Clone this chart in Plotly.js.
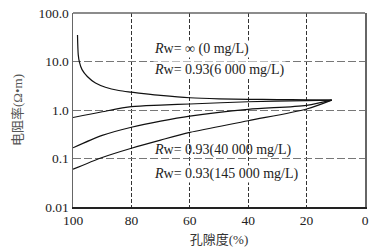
<!DOCTYPE html>
<html>
<head>
<meta charset="utf-8">
<script src="https://cdn.plot.ly/plotly-3.0.1.min.js"></script>
<style>
html,body{margin:0;padding:0;background:#fff;}
#chart{width:379px;height:252px;}
</style>
</head>
<body>
<div id="chart"></div>
<script>
// ---- data ----
const xInf = [98.46, 98.2, 97.8, 96.9, 95.1, 92.3, 88.9, 84.3, 80, 75, 70, 60, 50, 40, 30, 20, 11.4];
const yInf = [35, 13.7, 9.7, 6.8, 4.9, 3.6, 2.95, 2.52, 2.33, 2.15, 2.0, 1.79, 1.7, 1.66, 1.64, 1.62, 1.6];

const x6000 = [100, 90, 80, 70, 60, 40, 20, 11.4];
const y6000 = [0.70, 0.92, 1.17, 1.26, 1.33, 1.48, 1.56, 1.6];

const x40000 = [100, 90, 80, 70, 60, 40, 20, 11.4];
const y40000 = [0.166, 0.30, 0.44, 0.59, 0.75, 1.03, 1.25, 1.6];

const x145000 = [100, 90, 80, 70, 60, 40, 20, 11.4];
const y145000 = [0.06, 0.105, 0.163, 0.24, 0.345, 0.6, 1.05, 1.6];

const xTickVals = [100, 80, 60, 40, 20, 0];
const xTickText = ['100', '80', '60', '40', '20', '0'];
const yTickVals = [0.01, 0.1, 1, 10, 100];
const yTickText = ['0.01', '0.1', '1.0', '10.0', '100.0'];

const labelTexts = [
  '<i>R</i>w= ∞ (0 mg/L)',
  '<i>R</i>w= 0.93(6 000 mg/L)',
  '<i>R</i>w= 0.93(40 000 mg/L)',
  '<i>R</i>w= 0.93(145 000 mg/L)'
];
const xTitle = '孔隙度(%)';
const yTitle = '电阻率(Ω•m)';

// ---- styling / layout ----
const serif = 'Liberation Serif, Times New Roman, Noto Sans CJK SC, serif';
const lineStyle = {color: '#111', width: 1.2, shape: 'spline', smoothing: 0.8};

const traces = [
  {x: xInf, y: yInf},
  {x: x6000, y: y6000},
  {x: x40000, y: y40000},
  {x: x145000, y: y145000}
].map(t => Object.assign({type: 'scatter', mode: 'lines', line: lineStyle, hoverinfo: 'skip'}, t));

const labelY = [0.814, 0.705, 0.296, 0.169];
const labelBg = ['white', 'white', 'rgba(255,255,255,0)', 'white'];
const annotations = labelTexts.map((t, i) => ({
  text: t, xref: 'paper', yref: 'paper', x: 0.274, y: labelY[i],
  xanchor: 'left', yanchor: 'middle', showarrow: false,
  bgcolor: labelBg[i], borderpad: 0,
  font: {family: serif, size: 14, color: '#222'}
}));

const layout = {
  width: 379, height: 252,
  margin: {l: 73, r: 14, t: 13, b: 45},
  paper_bgcolor: 'white', plot_bgcolor: 'white',
  showlegend: false,
  font: {family: serif, size: 13, color: '#222'},
  xaxis: {
    range: [100, 0], tickvals: xTickVals, ticktext: xTickText,
    showgrid: true, gridcolor: '#333', gridwidth: 1, griddash: '4px,2px',
    zeroline: false, showline: true, linecolor: '#222', linewidth: 1.5, mirror: false,
    ticks: '', ticklen: 0, tickfont: {family: serif, size: 13.5, color: '#222'},
    title: {text: xTitle, font: {family: serif, size: 13, color: '#333'}, standoff: 8}
  },
  yaxis: {
    type: 'log', range: [-2, 2], tickvals: yTickVals, ticktext: yTickText,
    showgrid: true, gridcolor: '#777', gridwidth: 1, griddash: '8px,3px',
    zeroline: false, showline: true, linecolor: '#666', linewidth: 1.5, mirror: true,
    ticks: '', ticklen: 0, tickfont: {family: serif, size: 13.5, color: '#222'},
    title: {text: yTitle, font: {family: serif, size: 13, color: '#555'}, standoff: 13}
  },
  shapes: [
    {type: 'line', xref: 'paper', yref: 'paper', x0: 0, x1: 1, y0: 1, y1: 1,
     line: {color: '#666', width: 1.5}}
  ],
  annotations: annotations
};

Plotly.newPlot('chart', traces, layout, {staticPlot: true, displayModeBar: false});
</script>
</body>
</html>
